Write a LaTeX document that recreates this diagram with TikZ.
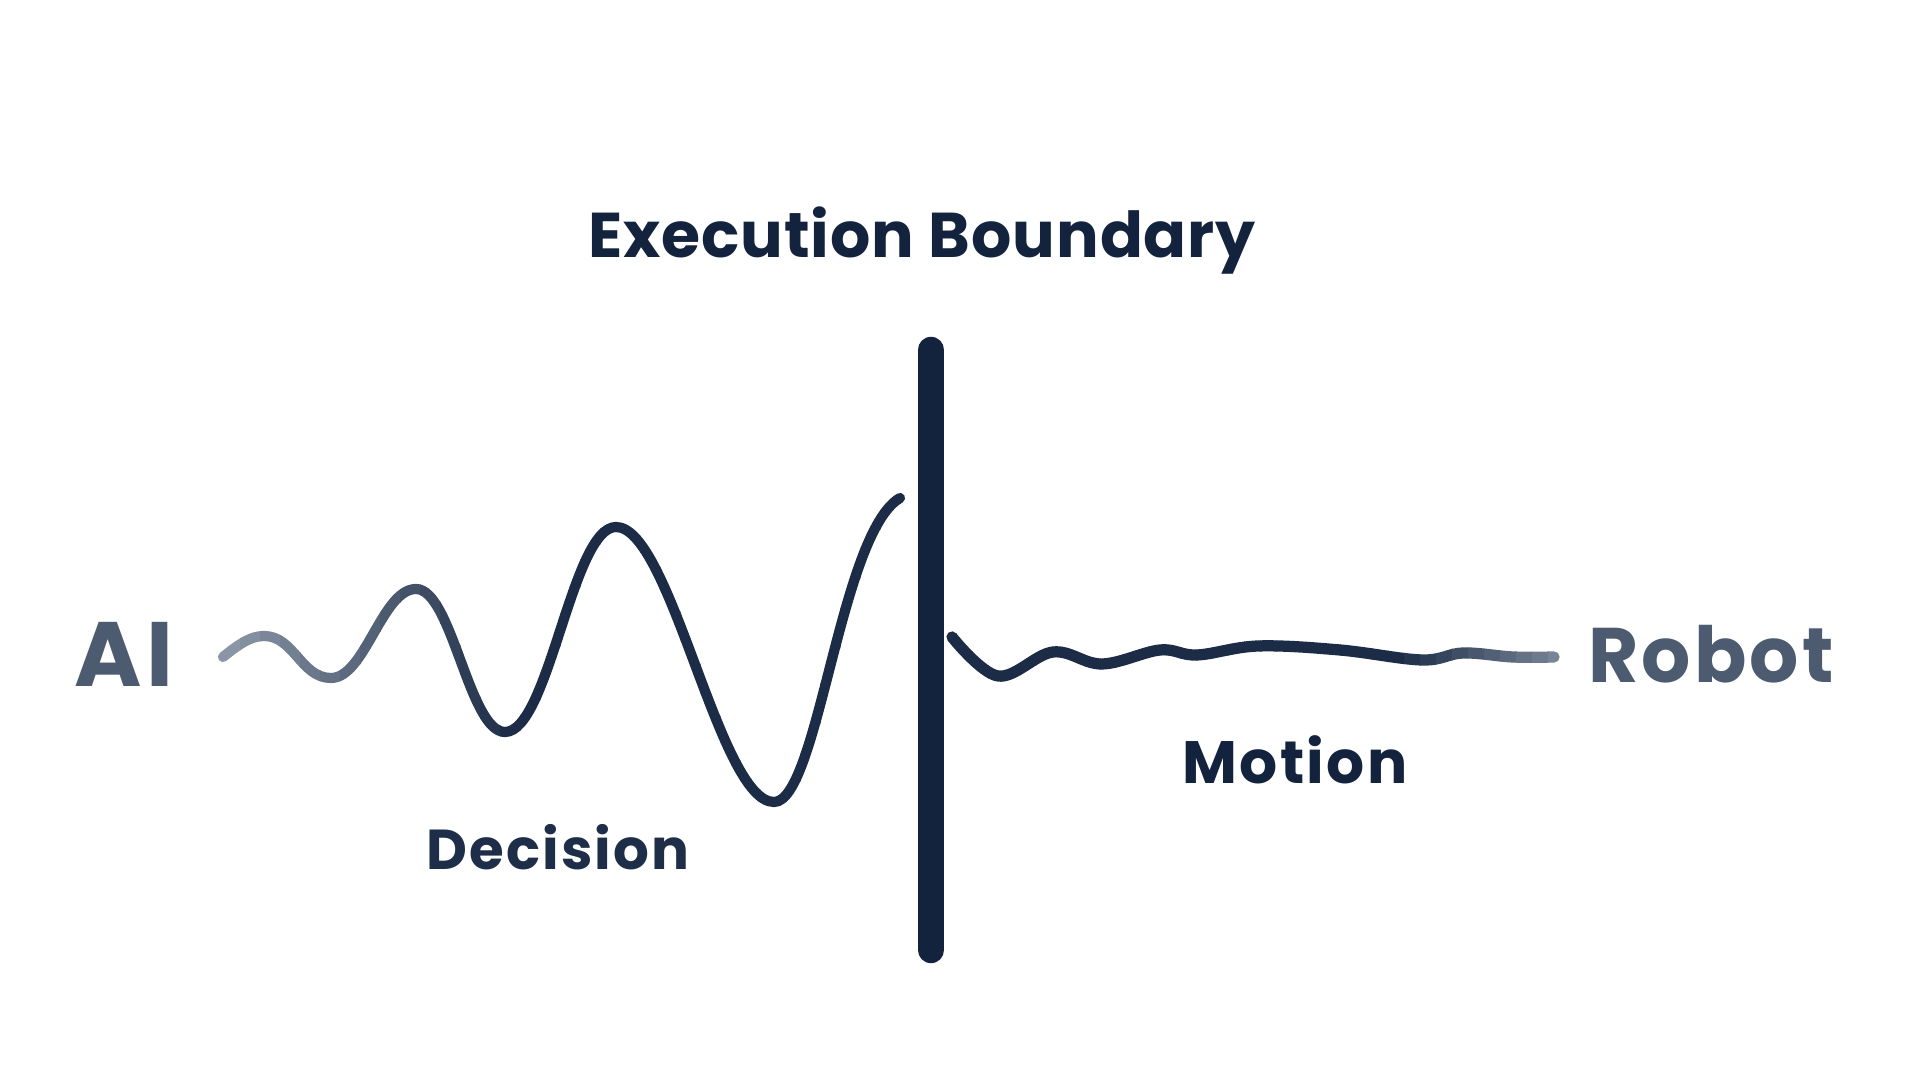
\documentclass[tikz,border=0pt]{standalone}
\usepackage{fontspec}
\setmainfont{Poppins}
\newfontfamily\handfont{Poppins}[LetterSpace=4.0]
\newfontfamily\titlefont{Poppins}[LetterSpace=1.5]

\definecolor{ink}{HTML}{13233E}
\definecolor{slate}{HTML}{4C5B70}
\definecolor{waveDark}{HTML}{1C2C47}
\definecolor{waveLight}{HTML}{8A96A5}

\begin{document}
\begin{tikzpicture}[x=0.01cm,y=-0.01cm,
  txt/.style={inner sep=0pt, anchor=base, font=\handfont\bfseries},
  barline/.style={line width=7.5pt, line cap=round, draw=ink},
  wave/.style={line width=2.9pt, line cap=round, line join=round}]
  \useasboundingbox (0,0) rectangle (1920,1080);

  % labels
  \node[txt, text=ink, font=\titlefont\bfseries\fontsize{18}{22}\selectfont] (boundary) at (922,258) {Execution Boundary};
  \node[txt, text=slate, font=\handfont\bfseries\fontsize{26}{30}\selectfont] (ai) at (124,687) {AI};
  \node[txt, text=slate, font=\handfont\bfseries\fontsize{22}{26}\selectfont] (robot) at (1711,683) {Robot};
  \node[txt, text=ink!95!white, font=\handfont\bfseries\fontsize{16}{20}\selectfont] (decision) at (558,870) {Decision};
  \node[txt, text=ink, font=\handfont\bfseries\fontsize{17}{20}\selectfont] (motion) at (1295,784) {Motion};

  % the boundary
  \coordinate (bartop) at (931,350);
  \coordinate (barbot) at (931,950);
  \draw[barline] (bartop) -- (barbot);

  % decision wave, AI side
  \coordinate (decstart) at (223,657);
  \coordinate (decend) at (900,498);
  \def\decwave{(decstart) .. controls (238,645) and (250,636) .. (264,636)
    .. controls (294,636) and (301,678) .. (331,678)
    .. controls (365,678) and (382,589) .. (416,589)
    .. controls (452,589) and (469,732) .. (505,732)
    .. controls (549,732) and (572,527) .. (616,527)
    .. controls (671,527) and (719,802) .. (774,802)
    .. controls (818,802) and (840,533) .. (decend)}
  \foreach \i in {0,...,35} {
    \pgfmathsetmacro\xa{200+20*\i}
    \pgfmathtruncatemacro\mix{min(100,max(0,(\xa+10-230)/2.8))}
    \begin{scope}
      \clip (\xa,0) rectangle (\xa+20.5,1080);
      \draw[wave, draw=waveDark!\mix!waveLight] \decwave;
    \end{scope}
  }

  % motion line, robot side
  \coordinate (motstart) at (952,637);
  \coordinate (motend) at (1554,657);
  \def\motwave{plot[smooth, tension=0.6] coordinates {(motstart) (998,676) (1053,652) (1102,664)
    (1160,650) (1197,655) (1258,646) (1340,650) (1422,660) (1463,653) (1513,657) (motend)}}
  \foreach \i in {0,...,39} {
    \pgfmathsetmacro\xa{940+16*\i}
    \pgfmathtruncatemacro\mix{min(100,max(0,100-(\xa+8-1400)/1.9))}
    \begin{scope}
      \clip (\xa,0) rectangle (\xa+16.5,1080);
      \draw[wave, line width=3.2pt, draw=waveDark!\mix!waveLight] \motwave;
    \end{scope}
  }
\end{tikzpicture}
\end{document}
